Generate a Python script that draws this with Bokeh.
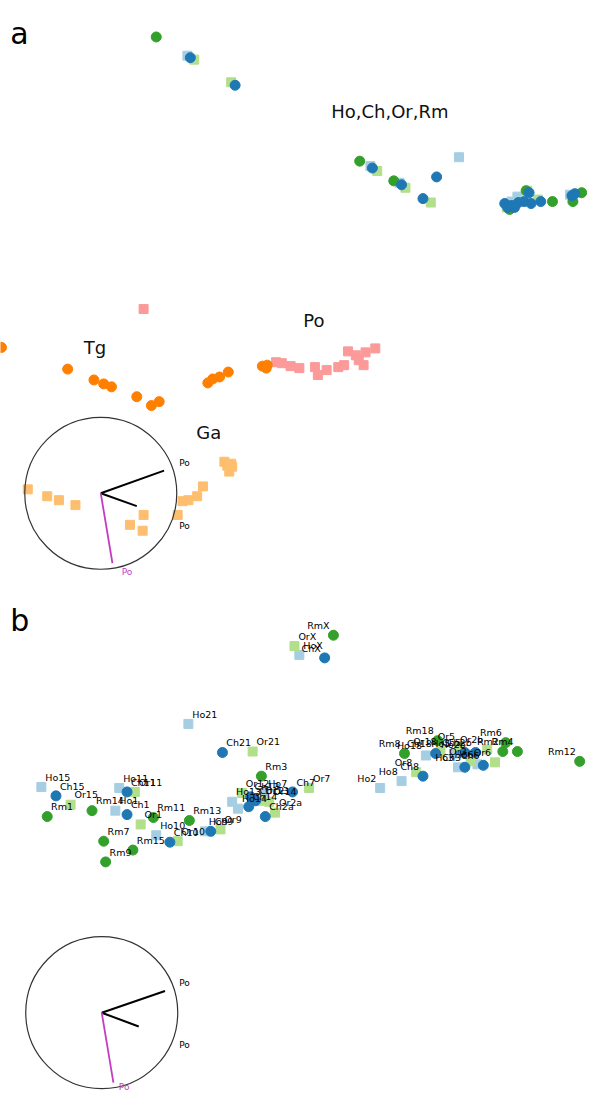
import numpy as np
from bokeh.plotting import figure
from bokeh.models import Range1d
from bokeh.embed import file_html
from bokeh.resources import INLINE
from bokeh.core.properties import value

# Colours (Paired palette)
C_HO = "#a6cee3"; C_CH = "#1f78b4"; C_OR = "#b2df8a"; C_RM = "#33a02c"
C_PO = "#fb9a99"; C_TG = "#ff7f00"; C_GA = "#fdbf6f"; C_VEC = "#c43cc4"

# ---------------- Panel a : ordination scores ----------------
a_ho_x = [192, 380, 410, 471, 531, 525, 585]
a_ho_y = [56, 168, 185, 159, 199, 204, 197]
a_or_x = [199, 237, 387, 416, 442, 541, 552, 520]
a_or_y = [60, 83, 173, 190, 205, 193, 202, 210]
a_rm_x = [160, 369, 404, 567, 597, 588, 523, 540]
a_rm_y = [37, 163, 183, 204, 195, 204, 212, 193]
a_ch_x = [195, 241, 382, 412, 448, 434, 518, 525, 532, 538, 545, 543, 555, 528, 521, 587, 590]
a_ch_y = [58, 86, 170, 187, 179, 201, 206, 208, 205, 204, 206, 195, 204, 210, 210, 198, 196]
a_tg_x = [1, 69, 96, 106, 114, 140, 155, 163, 213, 218, 225, 234, 269, 274, 273]
a_tg_y = [352, 374, 385, 389, 392, 402, 411, 407, 388, 384, 382, 377, 371, 370, 373]
a_po_x = [147, 283, 289, 298, 307, 323, 326, 335, 347, 353, 357, 365, 368, 373, 375, 385]
a_po_y = [313, 367, 368, 371, 373, 372, 380, 375, 372, 370, 356, 360, 365, 370, 357, 353]
a_ga_x = [28, 48, 60, 77, 133, 147, 146, 182, 187, 193, 202, 208, 230, 233, 237, 235, 238]
a_ga_y = [496, 503, 507, 512, 532, 522, 538, 522, 508, 507, 503, 493, 468, 472, 470, 478, 473]

a_group_names = ["Ho,Ch,Or,Rm", "Tg", "Po", "Ga"]
a_group_x = [400, 97, 322, 214]
a_group_y = [113, 352, 325, 438]

# biplot circle + vectors (panel a)
a_circ_x, a_circ_y = 103, 500
a_vec_x1 = [168, 140, 115]
a_vec_y1 = [477, 513, 571]
a_vec_lab = ["Po", "Po", "Po"]
a_vec_lab_x = [189, 189, 130]
a_vec_lab_y = [469, 533, 580]

# ---------------- Panel b : labelled scores ----------------
b_ho_n = ["HoX", "Ho21", "Ho15", "Ho11", "Ho1", "Ho10", "Ho9", "Ho13", "Ho14", "Ho7",
          "Ho2", "Ho8", "Ho18", "Ho5", "Ho2b", "Ho6", "Ho3"]
b_ho_x = [307, 193, 42, 122, 118, 160, 210, 238, 244, 271, 390, 412, 437, 466, 482, 490, 470]
b_ho_y = [664, 734, 798, 799, 822, 847, 843, 813, 820, 804, 799, 792, 766, 764, 765, 775, 778]
b_ho_s = ["R"] * 10 + ["L"] * 7

b_or_n = ["OrX", "Or21", "Or15", "Or11", "Or1", "Or10", "Or9", "Or12", "Or13", "Or14", "Or7", "Or2a",
          "Or8", "Or18", "Or5", "Or2b", "Or3", "Or6"]
b_or_x = [302, 259, 72, 138, 144, 182, 226, 248, 268, 276, 317, 282, 427, 452, 471, 500, 483, 508]
b_or_y = [655, 762, 816, 803, 836, 853, 841, 804, 812, 813, 799, 824, 783, 762, 757, 760, 772, 773]
b_or_s = ["R"] * 12 + ["L"] * 6

b_rm_n = ["RmX", "Rm3", "Rm1", "Rm14", "Rm11", "Rm13", "Rm7", "Rm9", "Rm15",
          "Rm8", "Rm18", "Rm6", "Rm2", "Rm4", "Rm12"]
b_rm_x = [342, 268, 48, 94, 157, 194, 106, 108, 136, 415, 449, 519, 516, 531, 595]
b_rm_y = [644, 787, 828, 822, 829, 832, 853, 874, 862, 764, 751, 753, 762, 762, 772]
b_rm_s = ["L"] + ["R"] * 8 + ["L"] * 6

b_ch_n = ["ChX", "Ch21", "Ch15", "Ch11", "Ch1", "Ch10", "Ch9", "Ch13", "Ch14", "Ch12", "Ch7", "Ch2a",
          "Ch8", "Ch18", "Ch5", "Ch2b", "Ch3", "Ch6"]
b_ch_x = [333, 228, 57, 130, 130, 174, 216, 257, 255, 262, 300, 272, 434, 447, 477, 488, 477, 496]
b_ch_y = [667, 763, 807, 803, 826, 854, 843, 808, 818, 812, 803, 828, 787, 764, 763, 763, 778, 776]
b_ch_s = ["L"] + ["R"] * 11 + ["L"] * 6

# biplot circle + vectors (panel b)
b_circ_x, b_circ_y = 104, 1027
b_vec_x1 = [169, 142, 116]
b_vec_y1 = [1005, 1041, 1098]
b_vec_lab = ["Po", "Po", "Po"]
b_vec_lab_x = [189, 189, 127]
b_vec_lab_y = [997, 1060, 1102]

panel_letters = ["a", "b"]
panel_letter_x = [10, 10]
panel_letter_y = [33, 629]

# ---------------- Figure ----------------
p = figure(width=587, height=1094, output_backend="svg", toolbar_location=None,
           x_range=Range1d(0, 603), y_range=Range1d(1110, 0),
           min_border=0, outline_line_color=None)
p.axis.visible = False
p.grid.visible = False

FONT = value("DejaVu Sans")

# panel a markers
p.scatter(a_ho_x, a_ho_y, marker="square", size=9, color=C_HO)
p.scatter(a_or_x, a_or_y, marker="square", size=9, color=C_OR)
p.scatter(a_po_x, a_po_y, marker="square", size=9, color=C_PO)
p.scatter(a_ga_x, a_ga_y, marker="square", size=9, color=C_GA)
p.scatter(a_rm_x, a_rm_y, marker="circle", size=10, color=C_RM)
p.scatter(a_ch_x, a_ch_y, marker="circle", size=10, color=C_CH)
p.scatter(a_tg_x, a_tg_y, marker="circle", size=10, color=C_TG)
p.text(a_group_x, a_group_y, text=a_group_names, text_font=FONT, text_font_size="18px",
       text_align="center", text_baseline="middle", text_color="#111111")

# panel b markers
p.scatter(b_ho_x, b_ho_y, marker="square", size=9, color=C_HO)
p.scatter(b_or_x, b_or_y, marker="square", size=9, color=C_OR)
p.scatter(b_rm_x, b_rm_y, marker="circle", size=10, color=C_RM)
p.scatter(b_ch_x, b_ch_y, marker="circle", size=10, color=C_CH)

for names, xs, ys, sides in [(b_ho_n, b_ho_x, b_ho_y, b_ho_s), (b_or_n, b_or_x, b_or_y, b_or_s),
                             (b_rm_n, b_rm_x, b_rm_y, b_rm_s), (b_ch_n, b_ch_x, b_ch_y, b_ch_s)]:
    xs = np.array(xs, float); ys = np.array(ys, float)
    sides = np.array(sides); names = np.array(names)
    for side, align, dx in [("R", "left", 4), ("L", "right", -4)]:
        m = sides == side
        if m.any():
            p.text(xs[m] + dx, ys[m] - 10, text=list(names[m]), text_font=FONT,
                   text_font_size="9.5px", text_align=align, text_baseline="middle",
                   text_color="#000000")

# biplot circles and vectors
for cx, cy, vx, vy, lab, lx, ly in [
        (a_circ_x, a_circ_y, a_vec_x1, a_vec_y1, a_vec_lab, a_vec_lab_x, a_vec_lab_y),
        (b_circ_x, b_circ_y, b_vec_x1, b_vec_y1, b_vec_lab, b_vec_lab_x, b_vec_lab_y)]:
    p.scatter([cx], [cy], marker="circle", size=152, fill_color=None,
              line_color="#333333", line_width=1.2)
    p.segment([cx] * 2, [cy] * 2, vx[:2], vy[:2], line_color="black", line_width=2)
    p.segment([cx], [cy], vx[2:], vy[2:], line_color=C_VEC, line_width=1.8)
    p.text(lx[:2], ly[:2], text=lab[:2], text_font=FONT, text_font_size="9px",
           text_align="center", text_baseline="middle", text_color="black")
    p.text(lx[2:], ly[2:], text=lab[2:], text_font=FONT, text_font_size="9px",
           text_align="center", text_baseline="middle", text_color=C_VEC)

p.text(panel_letter_x, panel_letter_y, text=panel_letters, text_font=FONT,
       text_font_size="30px", text_align="left", text_baseline="alphabetic", text_color="black")

open("out.html", "w").write(file_html(p, INLINE))
